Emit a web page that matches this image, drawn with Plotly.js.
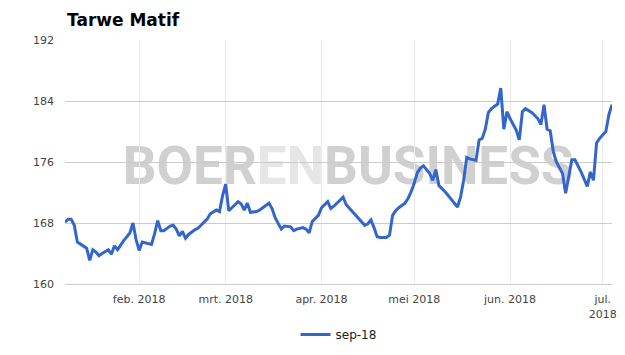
<!DOCTYPE html>
<html>
<head>
<meta charset="utf-8">
<script src="https://cdn.plot.ly/plotly-3.0.1.min.js"></script>
<style>html,body{margin:0;padding:0;background:#fff;}#chart{width:625px;height:355px;}</style>
</head>
<body>
<div id="chart"></div>
<script>
// ---- data ----
var seriesName = "sep-18";
var dates = [
"2018-01-08","2018-01-09","2018-01-10","2018-01-11","2018-01-12","2018-01-14","2018-01-15","2018-01-16","2018-01-17","2018-01-18",
"2018-01-19","2018-01-20","2018-01-22","2018-01-23","2018-01-24","2018-01-25","2018-01-26","2018-01-27","2018-01-29","2018-01-30",
"2018-01-31","2018-02-01","2018-02-02","2018-02-05","2018-02-06","2018-02-07","2018-02-08","2018-02-09","2018-02-10","2018-02-11",
"2018-02-12","2018-02-13","2018-02-14","2018-02-15","2018-02-16","2018-02-17","2018-02-19","2018-02-20","2018-02-21","2018-02-23",
"2018-02-24","2018-02-26","2018-02-27","2018-02-28","2018-03-01","2018-03-02","2018-03-03","2018-03-05","2018-03-06","2018-03-07",
"2018-03-08","2018-03-09","2018-03-11","2018-03-12","2018-03-15","2018-03-16","2018-03-17","2018-03-18","2018-03-19","2018-03-20",
"2018-03-22","2018-03-23","2018-03-24","2018-03-26","2018-03-27","2018-03-28","2018-03-29","2018-03-31","2018-04-01","2018-04-03",
"2018-04-04","2018-04-05","2018-04-06","2018-04-08","2018-04-09","2018-04-11","2018-04-13","2018-04-15","2018-04-16","2018-04-17",
"2018-04-18","2018-04-19","2018-04-20","2018-04-22","2018-04-23","2018-04-24","2018-04-25","2018-04-26","2018-04-28","2018-04-29",
"2018-04-30","2018-05-01","2018-05-02","2018-05-03","2018-05-04","2018-05-06","2018-05-07","2018-05-08","2018-05-09","2018-05-11",
"2018-05-13","2018-05-15","2018-05-16","2018-05-17","2018-05-18","2018-05-19","2018-05-21","2018-05-22","2018-05-23","2018-05-24",
"2018-05-25","2018-05-26","2018-05-28","2018-05-29","2018-05-30","2018-05-31","2018-06-01","2018-06-03","2018-06-04","2018-06-05",
"2018-06-06","2018-06-08","2018-06-10","2018-06-11","2018-06-12","2018-06-13","2018-06-14","2018-06-15","2018-06-16","2018-06-18",
"2018-06-19","2018-06-20","2018-06-21","2018-06-22","2018-06-24","2018-06-26","2018-06-27","2018-06-28","2018-06-29","2018-06-30",
"2018-07-02","2018-07-03","2018-07-04"
];
var prices = [
168.1,168.5,168.5,167.7,165.5,164.9,164.7,163.1,164.5,164.2,
163.7,164.0,164.5,163.9,165.0,164.5,165.1,165.7,166.7,168.0,
165.8,164.4,165.5,165.2,166.6,168.3,167.0,167.0,167.3,167.6,
167.7,167.2,166.3,166.9,166.0,166.5,167.1,167.3,167.7,168.5,
169.2,169.7,169.5,171.6,173.1,169.6,170.0,170.8,170.5,169.7,
170.6,169.4,169.5,169.7,170.6,169.9,168.7,168.0,167.2,167.6,
167.5,167.0,167.2,167.4,167.2,166.7,168.2,169.0,170.0,170.8,
169.9,170.2,170.6,171.4,170.4,169.5,168.6,167.7,167.9,168.4,
167.4,166.2,166.1,166.1,166.4,169.0,169.6,170.0,170.6,171.2,
172.1,173.2,174.6,175.2,175.5,174.5,173.6,175.0,172.9,172.1,
171.1,170.1,171.4,173.6,176.6,176.4,176.2,178.9,179.1,180.3,
182.5,183.0,183.6,185.7,180.3,182.6,181.7,180.2,178.9,182.6,
183.0,182.5,181.7,180.9,183.5,180.3,180.1,177.4,176.0,174.5,
171.9,174.1,176.3,176.3,174.7,172.8,174.7,173.6,178.5,179.1,
180.0,182.2,183.5
];
var monthTicks = ["2018-02-01","2018-03-01","2018-04-01","2018-05-01","2018-06-01","2018-07-01"];
var monthLabels = ["feb. 2018","mrt. 2018","apr. 2018","mei 2018","jun. 2018","jul.<br>2018"];
var yTicks = [160,168,176,184,192];
var chartTitle = "Tarwe Matif";

var trace = {
  x: dates, y: prices, name: seriesName, type: "scatter", mode: "lines",
  line: {color: "#3366cc", width: 3}, hoverinfo: "skip"
};

var layout = {
  width: 625, height: 355,
  margin: {l: 65, r: 13, t: 40, b: 71, autoexpand: false},
  paper_bgcolor: "#ffffff", plot_bgcolor: "rgba(0,0,0,0)",
  showlegend: true,
  font: {family: "DejaVu Sans, sans-serif", size: 11, color: "#444444"},
  title: {
    text: "<b>" + chartTitle + "</b>",
    font: {family: "DejaVu Sans, sans-serif", size: 17, color: "#000000"},
    xref: "container", yref: "container", x: 67/625, xanchor: "left",
    y: 1 - 20/355, yanchor: "middle"
  },
  xaxis: {
    type: "date", automargin: false,
    range: [dates[0], dates[dates.length - 1]],
    tickmode: "array", tickvals: monthTicks, ticktext: monthLabels,
    showgrid: true, gridcolor: "#ebebeb", gridwidth: 1,
    showline: true, linecolor: "#cccccc", linewidth: 1,
    zeroline: false, ticks: "", ticklabelstandoff: 5,
    tickfont: {family: "DejaVu Sans, sans-serif", size: 11, color: "#444444"},
    fixedrange: true
  },
  yaxis: {
    range: [160, 192], tickmode: "array", tickvals: yTicks, automargin: false,
    showgrid: true, gridcolor: "#cccccc", gridwidth: 1,
    zeroline: false, showline: false, ticks: "", ticklabelstandoff: 10,
    tickfont: {family: "DejaVu Sans, sans-serif", size: 11, color: "#444444"},
    fixedrange: true
  },
  legend: {
    orientation: "h", x: 0.5, xanchor: "center", y: -0.148, yanchor: "top",
    font: {family: "DejaVu Sans, sans-serif", size: 12, color: "#222222"},
    itemwidth: 30
  },
  shapes: [{
    type: "rect", xref: "paper", yref: "paper", x0: 0.035, x1: 1.0, y0: 0, y1: 1,
    line: {width: 0}, fillcolor: "rgba(0,0,0,0)", layer: "below",
    label: {
      text: "<b>BOER<span style='color:#e6e6e6'>EN</span>BUSINESS</b>",
      font: {family: "Roboto, sans-serif", size: 53, color: "#d0d0d0"},
      textposition: "middle center"
    }
  }]
};

Plotly.newPlot("chart", [trace], layout, {displayModeBar: false, staticPlot: true});
</script>
</body>
</html>
